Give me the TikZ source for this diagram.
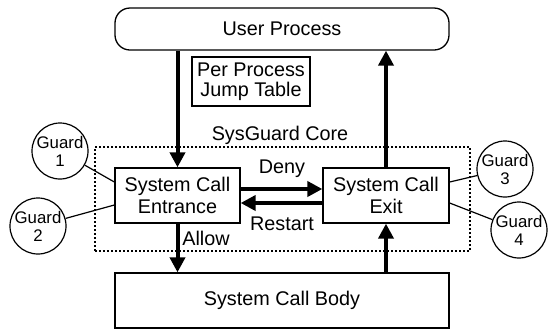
\documentclass[tikz,border=0pt]{standalone}
\usepackage{fontspec}
\setmainfont{Liberation Sans}
\usetikzlibrary{arrows.meta}
\begin{document}
\begin{tikzpicture}[x=1bp,y=-1bp,
  box/.style={draw,line width=1.3bp,inner sep=0pt,align=center,font=\fontsize{19.8bp}{22bp}\selectfont},
  guard/.style={draw,circle,line width=1.2bp,minimum size=56bp,inner sep=0pt,align=center,font=\fontsize{16.8bp}{18bp}\selectfont},
  lbl/.style={inner sep=0pt,font=\fontsize{19.8bp}{22bp}\selectfont},
  big/.style={line width=4bp,-{Triangle[length=15bp,width=15bp]}},
  thin/.style={line width=1.2bp}]
\useasboundingbox (0,0) rectangle (552,330);
\node[box,rounded corners=15bp,minimum width=334bp,minimum height=42bp] (up) at (282,29) {User Process};
\node[box,minimum width=118bp,minimum height=49bp,font=\fontsize{19.8bp}{20bp}\selectfont] (jt) at (251,81.5) {Per Process\\Jump Table};
\node[draw,dash pattern=on 2bp off 2bp,line width=1.1bp,minimum width=375bp,minimum height=104bp,inner sep=0pt] (core) at (282.5,199) {};
\node[lbl] (corel) at (280,135) {SysGuard Core};
\node[box,minimum width=125bp,minimum height=55bp] (ent) at (177.5,195.5) {System Call\\Entrance};
\node[box,minimum width=126bp,minimum height=55bp] (ex) at (386,195.5) {System Call\\Exit};
\node[box,minimum width=334bp,minimum height=55bp] (body) at (282,300.5) {System Call Body};
\node[guard] (g1) at (60,151) {Guard\\1};
\node[guard] (g2) at (38,226) {Guard\\2};
\node[guard] (g3) at (505,169) {Guard\\3};
\node[guard] (g4) at (519,230) {Guard\\4};
\draw[big] (ent.north |- up.south) -- (ent.north);
\draw[big] (ex.north) -- (ex.north |- up.south);
\draw[big] ([yshift=6.5bp]ent.east) -- ([yshift=6.5bp]ex.west);
\draw[big] ([yshift=-7.5bp]ex.west) -- ([yshift=-7.5bp]ent.east);
\draw[big] (ent.south) -- (ent.south |- body.north);
\draw[big] (ex.south |- body.north) -- (ex.south);
\node[lbl] (deny) at (282,169) {Deny};
\node[lbl] (restart) at (282,224) {Restart};
\node[lbl] (allow) at (206,238) {Allow};
\draw[thin] (g1) -- ([yshift=13.5bp]ent.west);
\draw[thin] (g2) -- ([yshift=-9.5bp]ent.west);
\draw[thin] (g3) -- ([yshift=13.5bp]ex.east);
\draw[thin] (g4) -- ([yshift=-7.5bp]ex.east);
\end{tikzpicture}
\end{document}
